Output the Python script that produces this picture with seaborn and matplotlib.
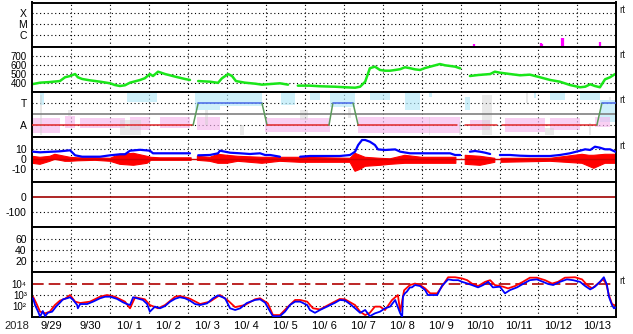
import numpy as np
import pandas as pd
import matplotlib
matplotlib.use("Agg")
import matplotlib.pyplot as plt
from matplotlib.ticker import NullLocator
import seaborn as sns

sns.set_theme(style="white")
plt.rcParams['font.family'] = ['Liberation Sans', 'DejaVu Sans']

nan = np.nan

# ---------------- data (x = days since 2018-09-29 00:00) ----------------
year_label = "2018"
day_labels = ["9/29", "9/30", "10/ 1", "10/ 2", "10/ 3", "10/ 4", "10/ 5", "10/ 6",
              "10/ 7", "10/ 8", "10/ 9", "10/10", "10/11", "10/12", "10/13"]
flux_tick_labels = ["10\u2074", "10\u00b3", "10\u00b2"]

# X-ray flare peaks (log10 W/m2)
xray_day = [11.35, 13.06, 13.09, 13.60, 13.63, 14.58]
xray_log = [-6.86, -6.76, -6.80, -6.23, -6.30, -6.67]

# solar wind speed (km/s)
speed_day = [0.02, 0.20, 0.45, 0.71, 0.84, 0.97, 1.10, 1.17, 1.28, 1.48, 1.74, 2.00, 2.12, 2.25,
             2.38, 2.51, 2.77, 2.89, 3.02, 3.10, 3.23, 3.41, 3.67, 3.92, 4.05, 4.12, 4.26, 4.56,
             4.77, 4.87, 5.03, 5.13, 5.23, 5.46, 5.72, 5.90, 6.11, 6.36, 6.57, 6.70, 6.82, 7.13,
             7.39, 7.78, 8.03, 8.29, 8.42, 8.55, 8.67, 8.80, 8.93, 9.06, 9.19, 9.32, 9.45, 9.57,
             9.70, 9.83, 9.96, 10.09, 10.22, 10.47, 10.60, 10.86, 10.99, 11.10, 11.24, 11.45,
             11.76, 11.88, 12.01, 12.27, 12.53, 12.78, 13.04, 13.30, 13.55, 13.81, 14.07, 14.20,
             14.33, 14.45, 14.58, 14.71, 14.84, 14.97]
speed_val = [392, 407, 414, 425, 467, 481, 503, 467, 448, 433, 418, 400, 381, 370,
             378, 407, 437, 456, 503, 481, 529, 503, 474, 448, 437, nan, 425, 418,
             405, 455, 503, 481, 425, 407, 396, 385, 392, 400, 385, nan, 374, 374,
             367, 362, 356, 351, 362, 418, 567, 585, 548, 540, 540, 548, 557, 578,
             568, 555, 548, 570, 585, 614, 600, 585, 566, nan, 481, 492,
             503, 529, 518, 503, 489, 496, 467, 437, 418, 381, 356, 362,
             389, 370, 356, 444, 467, 503]

# IMF sector (+1 = T, -1 = A)
sector_day = [0.0, 4.13, 4.26, 5.90, 6.03, 7.62, 7.72, 8.24, 8.37, 10.91, 10.92, 11.12, 11.94,
              11.95, 12.06, 14.50, 14.63, 15.0]
sector_val = [-1, -1, 1, 1, -1, -1, 1, 1, -1, -1, nan, -1, -1, nan, -1, -1, 1, 1]

# IMF scatter clusters: toward (light blue), away (pink), undetermined (gray)
tow_start = [0.20, 2.43, 4.18, 4.82, 6.40, 7.13, 7.65, 8.67, 9.57, 10.20, 11.11, 12.88, 13.30, 14.07, 14.58]
tow_end   = [0.30, 3.20, 4.82, 5.90, 6.75, 7.39, 8.29, 9.19, 9.96, 10.26, 11.24, 12.95, 13.68, 14.58, 15.00]
tow_lo    = [0.85, 1.10, 0.40, 0.75, 0.85, 1.30, 0.65, 1.30, 0.40, 1.55, 0.40, 1.45, 1.30, 1.30, -0.70]
tow_hi    = [2.00, 1.90, 2.00, 2.00, 2.00, 1.90, 2.00, 2.00, 2.00, 1.90, 1.60, 1.90, 2.00, 2.00, 1.30]

awy_start = [0.02, 0.84, 1.23, 2.51, 3.28, 4.23, 5.98, 8.37, 9.96, 11.24, 12.14, 13.30, 14.45]
awy_end   = [0.71, 1.10, 2.38, 3.02, 4.05, 4.82, 7.65, 9.96, 10.99, 11.76, 13.17, 14.07, 14.84]
awy_lo    = [-1.70, -1.25, -1.25, -1.40, -1.25, -1.40, -1.60, -1.70, -1.70, -1.45, -1.60, -1.45, -1.15]
awy_hi    = [-0.35, -0.15, -0.35, -0.25, -0.25, -0.25, -0.35, -0.25, -0.25, -0.50, -0.35, -0.35, -0.25]

gry_start = [0.20, 0.92, 2.25, 4.43, 5.34, 6.88, 8.11, 10.18, 10.97, 11.55, 12.68, 13.17, 14.31, 14.82]
gry_end   = [0.24, 1.00, 2.80, 4.52, 5.44, 7.08, 8.19, 10.22, 11.01, 11.80, 12.72, 13.40, 14.35, 14.86]
gry_lo    = [-1.90, -0.15, -1.90, -1.00, -1.90, -0.50, -0.35, -1.90, -1.90, -1.90, 1.00, -1.90, -1.90, 1.30]
gry_hi    = [1.75, 0.40, -0.50, 0.40, -1.00, 0.40, 0.55, -0.25, -0.70, 1.75, 1.90, -1.25, -0.80, 1.60]

# IMF |B| (nT)
bt_day = [0.02, 0.20, 0.71, 0.97, 1.10, 1.28, 1.74, 2.00, 2.25, 2.38, 2.51, 2.77, 3.02, 3.10, 3.28,
          4.05, 4.15, 4.26, 4.56, 4.77, 4.82, 4.95, 5.08, 5.34, 5.59, 5.85, 5.98, 6.11, 6.36, 6.60,
          6.88, 7.13, 7.39, 7.65, 7.90, 8.16, 8.29, 8.37, 8.47, 8.55, 8.67, 8.80, 8.88, 9.06, 9.32,
          9.45, 9.70, 9.96, 10.22, 10.47, 10.73, 10.86, 10.99, 11.10, 11.24, 11.37, 11.50, 11.63,
          11.76, 11.90, 12.01, 12.27, 12.53, 12.78, 13.30, 13.55, 13.81, 14.07, 14.20, 14.33, 14.45,
          14.58, 14.71, 14.84, 14.97]
bt_val = [7.6, 7.0, 8.0, 9.0, 4.0, 2.6, 2.6, 4.0, 5.0, 5.0, 8.6, 9.5, 8.6, 6.0, 6.0,
          6.0, nan, 4.0, 4.3, 6.0, 8.6, 7.6, 6.6, 6.0, 5.3, 6.0, 4.3, 4.3, 2.6, nan,
          2.6, 3.3, 3.3, 3.3, 3.3, 4.3, 7.6, 14.3, 19.3, 19.3, 17.6, 14.3, 9.9, 9.3, 9.9,
          7.6, 6.0, 6.0, 6.0, 6.0, 6.0, 4.3, 4.3, nan, 7.6, 8.3, 7.6, 6.6,
          5.3, nan, 4.3, 4.3, 3.6, 3.3, 3.3, 4.3, 6.0, 8.6, 10.0, 9.3, 12.6,
          11.6, 10.0, 10.0, 7.6]

# IMF Bz spread (nT): dense lower / upper envelope
bz_day = [0.00, 0.20, 0.45, 0.58, 0.84, 0.97, 1.17, 1.61, 2.00, 2.25, 2.60, 2.95, 3.05, 3.28,
          4.08, 4.10, 4.24, 4.56, 4.77, 5.00, 5.28, 5.90, 6.36, 6.88, 8.16, 8.29, 8.42, 8.55,
          8.93, 9.19, 9.57, 10.00, 10.88, 10.92, 11.12, 11.50, 11.88, 11.92, 12.04, 13.30,
          14.12, 14.30, 14.42, 14.71, 15.00]
bz_lo = [-4, -5, -2, 0, -2, -2, -1.5, -1, -2, -5, -6, -4, -1, -1,
         -1, nan, -1, -2, -4, -4, -2, -4, -2, -3, -3, -12, -10, -7,
         -6, -5, -4, -4, -4, nan, -5, -6, -3, nan, -3, -2,
         -4, -7, -9, -4, -4]
bz_hi = [3, 2, 3, 5, 3, 2, 1.5, 1.5, 1, 5, 6, 3, 2, 1.5,
         1.5, nan, 3, 2, 5, 4, 3, 2, 2, 2, 1, 6, 4, 2,
         1, 0.5, 4, 2, 2, nan, 4, 3, 1, nan, 1, 1,
         5, 4, 4, 5, 5]

# >2 MeV electron flux, log10 (GOES-13 red, GOES-15 blue)
g13_day = [0.02, 0.10, 0.20, 0.33, 0.45, 0.58, 0.71, 0.84, 0.97, 1.10, 1.23, 1.48, 1.74, 1.92, 2.12,
           2.38, 2.51, 2.64, 2.89, 3.02, 3.23, 3.41, 3.67, 3.79, 4.05, 4.31, 4.56, 4.82, 5.03, 5.21,
           5.46, 5.72, 5.85, 6.05, 6.18, 6.36, 6.57, 6.75, 6.88, 7.06, 7.21, 7.39, 7.65, 7.90, 8.03,
           8.29, 8.42, 8.55, 8.67, 8.80, 8.93, 9.06, 9.24, 9.39, 9.45, 9.55, 9.70, 9.83, 9.96, 10.09,
           10.22, 10.40, 10.52, 10.68, 10.86, 11.04, 11.17, 11.29, 11.45, 11.63, 11.76, 11.88, 12.09,
           12.22, 12.40, 12.60, 12.78, 12.96, 13.17, 13.35, 13.50, 13.68, 13.94, 14.12, 14.25, 14.38,
           14.53, 14.66, 14.74, 14.81, 14.89, 15.00]
g13_log = [2.83, 2.27, 1.50, 1.35, 1.50, 2.09, 2.48, 2.65, 2.98, 2.39, 2.27, 2.39, 2.83, 2.98, 2.83,
           2.39, 1.80, 2.78, 2.60, 2.09, 1.80, 2.09, 2.83, 2.90, 2.65, 2.18, 2.39, 2.98, 2.48, 1.90,
           2.09, 2.60, 2.69, 2.24, 1.20, 1.20, 1.95, 2.54, 2.54, 2.39, 1.80, 1.70, 2.18, 2.63, 2.60,
           2.09, 1.50, 1.20, 1.40, 1.95, 1.95, 1.65, 2.54, 2.98, 1.50, 3.40, 3.87, 4.00, 3.87, 3.57,
           3.13, 3.13, 3.72, 4.56, 4.56, 4.45, 4.30, 4.00, 3.78, 4.15, 4.30, 3.87, 3.72,
           3.57, 3.78, 4.15, 4.52, 4.52, 4.30, 4.00, 4.15, 4.52, 4.56, 4.37, 3.87, 3.57,
           4.00, 4.37, 4.00, 2.98, 2.18, 2.00]
g15_day = [0.02, 0.07, 0.15, 0.20, 0.27, 0.33, 0.40, 0.51, 0.61, 0.71, 0.79, 0.89, 0.97, 1.05, 1.15,
           1.17, 1.23, 1.41, 1.56, 1.74, 1.87, 2.00, 2.18, 2.33, 2.43, 2.51, 2.59, 2.69, 2.84, 2.95,
           3.02, 3.15, 3.28, 3.41, 3.54, 3.67, 3.79, 3.92, 4.05, 4.18, 4.31, 4.49, 4.64, 4.77, 4.95,
           5.08, 5.21, 5.34, 5.51, 5.72, 5.85, 5.98, 6.11, 6.18, 6.36, 6.49, 6.62, 6.75, 6.88, 7.06,
           7.13, 7.26, 7.39, 7.60, 7.78, 7.90, 8.03, 8.16, 8.29, 8.42, 8.55, 8.67, 8.80, 8.93, 9.06,
           9.19, 9.32, 9.45, 9.50, 9.52, 9.57, 9.62, 9.70, 9.75, 9.83, 9.96, 10.09, 10.16, 10.27,
           10.40, 10.52, 10.68, 10.81, 10.94, 11.04, 11.17, 11.29, 11.45, 11.58, 11.71, 11.83, 12.01,
           12.14, 12.27, 12.45, 12.60, 12.78, 12.96, 13.12, 13.25, 13.38, 13.55, 13.73, 13.89, 14.07,
           14.20, 14.33, 14.45, 14.58, 14.68, 14.76, 14.81, 14.89, 14.94, 15.00]
g15_log = [2.69, 2.09, 1.50, 1.05, 1.56, 1.10, 1.40, 1.50, 1.95, 2.30, 2.60, 2.69, 2.78, 2.54, 2.10,
           1.80, 2.18, 2.18, 2.39, 2.69, 2.83, 2.83, 2.63, 2.33, 2.18, 2.09, 2.78, 2.69, 2.54, 2.18,
           1.50, 1.95, 1.80, 2.00, 2.39, 2.65, 2.78, 2.69, 2.48, 2.18, 2.09, 2.24, 2.69, 2.95, 2.69,
           1.80, 1.65, 1.80, 2.27, 2.54, 2.60, 2.30, 1.50, 1.10, 1.10, 1.50, 2.10, 2.39, 2.39, 2.09,
           1.65, 1.40, 1.65, 2.00, 2.30, 2.54, 2.50, 2.18, 1.80, 1.40, 1.65, 1.10, 1.35, 1.50, 1.80,
           1.95, 2.54, 1.35, 1.05, 2.83, 3.13, 3.28, 3.66, 3.66, 3.87, 3.78, 3.42, 2.98, 2.98,
           2.98, 3.78, 4.37, 4.30, 4.30, 4.15, 4.01, 3.87, 3.66, 3.87, 4.15, 3.66, 3.72,
           3.13, 3.42, 3.66, 3.96, 4.30, 4.37, 4.15, 3.96, 3.87, 4.15, 4.37, 4.30, 4.15,
           3.78, 3.48, 3.72, 4.15, 4.56, 3.87, 2.83, 2.09, 1.80, 1.90]

# ---------------- layout ----------------
W, H = 633, 334
fig = plt.figure(figsize=(W / 100, H / 100), dpi=100)
fig.patch.set_facecolor("white")
left_px, right_px = 32.3, 616.3
tops = [2.5, 47.3, 92.3, 137.3, 182.3, 227.3, 272.3]
bots = tops[1:] + [317.3]
axes = []
for t, b in zip(tops, bots):
    ax = fig.add_axes([left_px / W, 1 - b / H, (right_px - left_px) / W, (b - t) / H])
    axes.append(ax)

DOT = (0, (1, 2.4))
YFS = 7.5


def style(ax, ticks, labels, grid, fs=YFS):
    ax.set_xlim(0, 15)
    ax.set_yticks(ticks)
    ax.set_yticklabels(labels)
    ax.yaxis.set_minor_locator(NullLocator())
    ax.tick_params(axis='y', length=0, pad=4, labelsize=fs, colors='black')
    ax.set_xticks([])
    ax.set_facecolor("white")
    for g in grid:
        ax.axhline(g, color='black', lw=0.8, ls=DOT, zorder=0.5)
    for d in range(1, 15):
        ax.axvline(d, color='black', lw=0.8, ls=DOT, zorder=0.5)
    for s in ax.spines.values():
        s.set_linewidth(1.4)
        s.set_color('black')
        s.set_visible(True)
    ax.set_xlabel("")
    ax.set_ylabel("")


def seg_df(d, v):
    df = pd.DataFrame({'day': d, 'v': v})
    df['seg'] = df['v'].isna().cumsum()
    return df.dropna()


# Panel 1: X-ray
ax = axes[0]
ax.set_yscale('log')
ax.set_ylim(10 ** -7.13, 1e-3)
style(ax, [1e-4, 1e-5, 1e-6], ['X', 'M', 'C'], [1e-4, 1e-5, 1e-6])
ax.vlines(xray_day, 10 ** -7.13, [10 ** v for v in xray_log], color='#ff00ff', lw=1.6)

# Panel 2: solar wind speed
ax = axes[1]
ax.set_ylim(300, 800)
style(ax, [700, 600, 500, 400], ['700', '600', '500', '400'], [700, 600, 500, 400], fs=7)
sns.lineplot(data=seg_df(speed_day, speed_val), x='day', y='v', units='seg', estimator=None,
             sort=False, color='#19e619', lw=1.8, ax=ax, legend=False)
ax.set_xlabel(""); ax.set_ylabel("")

# Panel 3: IMF sector
ax = axes[2]
ax.set_ylim(-2.1, 2.0)
style(ax, [1, -1], ['T', 'A'], [1, -1])
ax.bar(tow_start, [h - l for l, h in zip(tow_lo, tow_hi)],
       width=[e - s for s, e in zip(tow_start, tow_end)], bottom=tow_lo, align='edge',
       color='#b4e8f8', alpha=0.65, lw=0, zorder=1)
ax.bar(awy_start, [h - l for l, h in zip(awy_lo, awy_hi)],
       width=[e - s for s, e in zip(awy_start, awy_end)], bottom=awy_lo, align='edge',
       color='#f6b8ee', alpha=0.65, lw=0, zorder=1)
ax.bar(gry_start, [h - l for l, h in zip(gry_lo, gry_hi)],
       width=[e - s for s, e in zip(gry_start, gry_end)], bottom=gry_lo, align='edge',
       color='#cfcfcf', alpha=0.45, lw=0, zorder=1.1)
ax.axhline(0, color='#808080', lw=1.2, zorder=2)
for i in range(len(sector_day) - 1):
    v0, v1 = sector_val[i], sector_val[i + 1]
    if np.isnan(v0) or np.isnan(v1):
        continue
    if v0 == v1:
        col = '#e02828' if v0 < 0 else '#4868e8'
    else:
        col = '#5a9a5a'
    ax.plot(sector_day[i:i + 2], sector_val[i:i + 2], color=col, lw=1.1, zorder=3)

# Panel 4: IMF Bt / Bz
ax = axes[3]
ax.set_ylim(-23, 22)
style(ax, [10, 0, -10], ['10', '0', '-10'], [10, -10])
ax.fill_between(bz_day, bz_lo, bz_hi, color='#ff0000', lw=0.8, edgecolor='#ff0000', zorder=2)
ax.axhline(0, color='#d00000', lw=1.0, zorder=2.5)
sns.lineplot(data=seg_df(bt_day, bt_val), x='day', y='v', units='seg', estimator=None,
             sort=False, color='#0000ff', lw=1.6, ax=ax, legend=False, zorder=3)
ax.set_xlabel(""); ax.set_ylabel("")

# Panel 5: Dst
ax = axes[4]
ax.set_ylim(-200, 100)
style(ax, [0, -100], ['0', '-100'], [-100])
ax.axhline(0, color='#a00000', lw=1.2, zorder=2)

# Panel 6: empty index panel
ax = axes[5]
ax.set_ylim(0, 80)
style(ax, [60, 40, 20], ['60', '40', '20'], [60, 40, 20])

# Panel 7: electron flux
ax = axes[6]
ax.set_yscale('log')
ax.set_ylim(10, 1e5)
style(ax, [1e4, 1e3, 1e2], flux_tick_labels, [1e3, 1e2], fs=7)
ax.axhline(1e4, color='#b00000', lw=1.2, ls=(0, (7, 3)), zorder=1)
df13 = pd.DataFrame({'day': g13_day, 'flux': [10 ** v for v in g13_log]})
df15 = pd.DataFrame({'day': g15_day, 'flux': [10 ** v for v in g15_log]})
sns.lineplot(data=df13, x='day', y='flux', estimator=None, sort=False, color='#ff0000',
             lw=1.3, ax=ax, legend=False, zorder=2)
sns.lineplot(data=df15, x='day', y='flux', estimator=None, sort=False, color='#0000ff',
             lw=1.3, ax=ax, legend=False, zorder=3)
ax.set_xlabel(""); ax.set_ylabel("")
ax.set_xticks([d + 0.5 for d in range(15)])
ax.set_xticklabels(day_labels)
ax.tick_params(axis='x', length=0, pad=2.5, labelsize=8, colors='black')

fig.text(17 / W, 1 - 326 / H, year_label, ha='center', va='center', fontsize=8)
for ypx in [10, 55, 100, 146, 281]:
    fig.text(619 / W, 1 - ypx / H, 'rt', ha='left', va='center', fontsize=7)

fig.savefig("out.png", dpi=100, facecolor='white')
